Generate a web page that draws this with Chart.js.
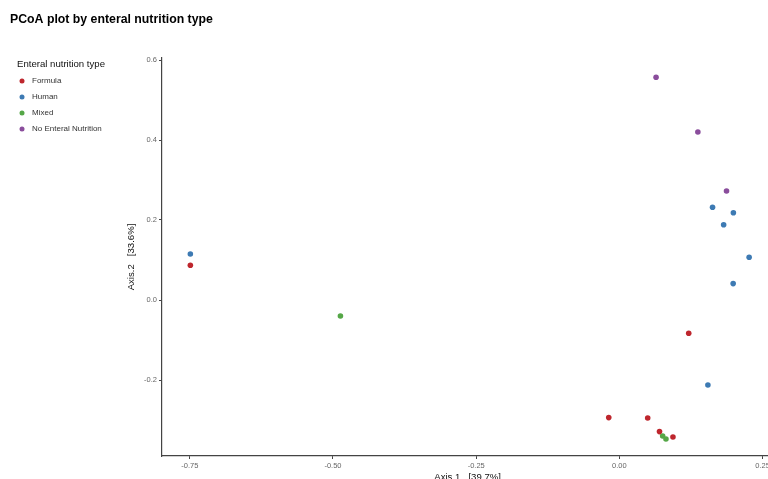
<!DOCTYPE html>
<html>
<head>
<meta charset="utf-8">
<script src="https://cdn.jsdelivr.net/npm/chart.js@4"></script>
<style>
  html, body { margin: 0; padding: 0; background: #fff; overflow: hidden; }
  #wrap { width: 776px; height: 479px; }
</style>
</head>
<body>
<div id="wrap"><canvas id="myChart" width="776" height="479"></canvas></div>
<script>
// categories and colours
var categories = ['Formula', 'Human', 'Mixed', 'No Enteral Nutrition'];
var colors = ['#BE262D', '#3D7AB3', '#55A747', '#8A4D9C'];

// point coordinates
var formulaX = [-0.749, 0.121, -0.0186, 0.0494, 0.070, 0.0935];
var formulaY = [0.087, -0.083, -0.294, -0.295, -0.329, -0.3425];
var humanX = [-0.749, 0.1626, 0.199, 0.182, 0.2265, 0.1986, 0.1545];
var humanY = [0.115, 0.232, 0.218, 0.188, 0.107, 0.041, -0.2125];
var mixedX = [-0.487, 0.0755, 0.0813];
var mixedY = [-0.040, -0.340, -0.3475];
var noneX = [0.064, 0.137, 0.187];
var noneY = [0.557, 0.420, 0.2725];

var xTicks = [-0.75, -0.50, -0.25, 0.00, 0.25];
var yTicks = [-0.2, 0.0, 0.2, 0.4, 0.6];

var FONT = "'Liberation Sans', Arial, sans-serif";

function pts(xs, ys) {
    var out = [];
    for (var i = 0; i < xs.length; i++) out.push({x: xs[i], y: ys[i]});
    return out;
}

var series = [pts(formulaX, formulaY), pts(humanX, humanY), pts(mixedX, mixedY), pts(noneX, noneY)];

var datasets = categories.map(function (c, i) {
    return {
        label: c,
        data: series[i],
        backgroundColor: colors[i],
        borderColor: colors[i],
        borderWidth: 0,
        pointRadius: 2.8,
        pointHoverRadius: 2.8
    };
});

// title + legend drawn by hand so they sit where ggplot put them
var sidePlugin = {
    id: 'side',
    afterDraw: function (chart) {
        var ctx = chart.ctx;
        ctx.save();
        ctx.fillStyle = '#000';
        ctx.textBaseline = 'middle';
        ctx.textAlign = 'left';
        ctx.font = 'bold 12.3px ' + FONT;
        ctx.fillText('PCoA plot by enteral nutrition type', 10, 20);

        ctx.font = '9.6px ' + FONT;
        ctx.fillStyle = '#111';
        ctx.fillText('Enteral nutrition type', 17, 64);

        ctx.font = '8px ' + FONT;
        chart.data.datasets.forEach(function (ds, i) {
            var y = 81 + i * 16;
            ctx.fillStyle = ds.backgroundColor;
            ctx.beginPath();
            ctx.arc(22, y, 2.5, 0, Math.PI * 2);
            ctx.fill();
            ctx.fillStyle = '#333';
            ctx.fillText(ds.label, 32, y);
        });
        ctx.restore();
    }
};

var ctx = document.getElementById('myChart').getContext('2d');
var myChart = new Chart(ctx, {
    type: 'scatter',
    data: { datasets: datasets },
    options: {
        responsive: false,
        animation: false,
        devicePixelRatio: 1,
        layout: { padding: { left: 125, top: 58, right: 2, bottom: 0 } },
        plugins: {
            legend: { display: false },
            tooltip: { enabled: false }
        },
        scales: {
            x: {
                type: 'linear',
                min: -0.7985,
                max: 0.2685,
                afterBuildTicks: function (scale) {
                    scale.ticks = xTicks.map(function (v) { return {value: v}; });
                },
                afterFit: function (scale) {
                    scale.height = 23;
                    scale.paddingLeft = 0;
                    scale.paddingRight = 0;
                },
                ticks: {
                    autoSkip: false,
                    maxRotation: 0,
                    padding: 2,
                    color: '#666',
                    font: { family: FONT, size: 7.5 },
                    callback: function (v) { return Number(v).toFixed(2); }
                },
                grid: { drawOnChartArea: false, drawTicks: true, tickLength: 3, color: '#444' },
                border: { display: true, color: '#444', width: 1.2 },
                title: {
                    display: true,
                    text: 'Axis.1   [39.7%]',
                    color: '#111',
                    font: { family: FONT, size: 9.6 },
                    padding: { top: 0, bottom: -4 }
                }
            },
            y: {
                type: 'linear',
                min: -0.39,
                max: 0.605,
                afterBuildTicks: function (scale) {
                    scale.ticks = yTicks.map(function (v) { return {value: v}; });
                },
                afterFit: function (scale) {
                    scale.width = 37;
                },
                ticks: {
                    padding: 2,
                    color: '#666',
                    font: { family: FONT, size: 7.5 },
                    callback: function (v) { return Number(v).toFixed(1); }
                },
                grid: { drawOnChartArea: false, drawTicks: true, tickLength: 3, color: '#444' },
                border: { display: true, color: '#444', width: 1.2 },
                title: {
                    display: true,
                    text: 'Axis.2   [33.6%]',
                    color: '#111',
                    font: { family: FONT, size: 9.6 },
                    padding: { top: 1, bottom: 0 }
                }
            }
        }
    },
    plugins: [sidePlugin]
});
</script>
</body>
</html>
